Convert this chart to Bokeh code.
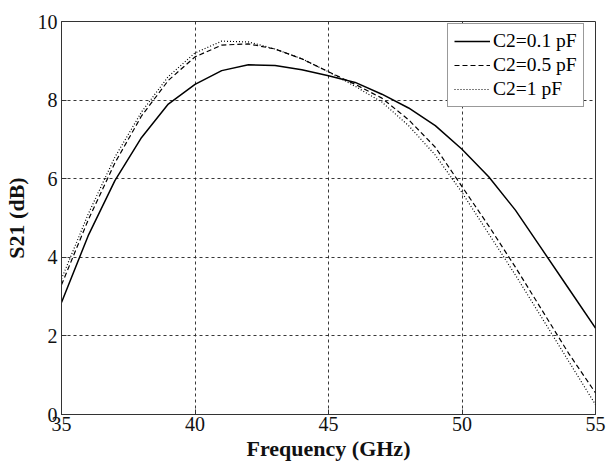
from bokeh.plotting import figure
from bokeh.models import Range1d, FixedTicker, Legend, LegendItem
from bokeh.embed import file_html
from bokeh.resources import INLINE

freq = [35, 36, 37, 38, 39, 40, 41, 42, 43, 44, 45, 46, 47, 48, 49, 50, 51, 52, 53, 54, 55]
s21_c01 = [2.85, 4.55, 5.95, 7.05, 7.9, 8.4, 8.75, 8.9, 8.88, 8.77, 8.62, 8.45, 8.15, 7.8, 7.35, 6.75, 6.05, 5.2, 4.2, 3.2, 2.2]
s21_c05 = [3.3, 4.95, 6.4, 7.6, 8.5, 9.1, 9.4, 9.43, 9.3, 9.05, 8.72, 8.4, 8.05, 7.5, 6.8, 5.8, 4.8, 3.75, 2.65, 1.55, 0.55]
s21_c1 = [3.45, 5.1, 6.55, 7.7, 8.6, 9.2, 9.5, 9.48, 9.3, 9.05, 8.72, 8.35, 7.95, 7.35, 6.6, 5.65, 4.6, 3.55, 2.45, 1.35, 0.25]
labels = ["C2=0.1 pF", "C2=0.5 pF", "C2=1 pF"]
xticks = [35, 40, 45, 50, 55]
yticks = [0, 2, 4, 6, 8, 10]

FONT = "Liberation Serif"

p = figure(width=606, height=464, output_backend="svg", toolbar_location=None,
           x_range=Range1d(35, 55), y_range=Range1d(0, 10),
           min_border_left=58, min_border_right=11, min_border_top=21, min_border_bottom=50)
p.outline_line_color = "#333333"
p.outline_line_width = 1

for ax in (p.xaxis[0], p.yaxis[0]):
    ax.major_label_text_font = FONT
    ax.major_label_text_font_size = "20px"
    ax.major_label_text_color = "#111111"
    ax.axis_label_text_font = FONT
    ax.axis_label_text_font_size = "22px"
    ax.axis_label_text_font_style = "bold"
    ax.axis_label_text_color = "#111111"
    ax.major_tick_in = 5
    ax.major_tick_out = 0
    ax.minor_tick_in = 0
    ax.minor_tick_out = 0
    ax.axis_line_color = "#333333"
    ax.major_tick_line_color = "#333333"

p.xaxis[0].ticker = FixedTicker(ticks=xticks)
p.yaxis[0].ticker = FixedTicker(ticks=yticks)
p.xaxis[0].axis_label = "Frequency (GHz)"
p.yaxis[0].axis_label = "S21 (dB)"
p.xaxis[0].major_label_standoff = 2
p.xaxis[0].axis_label_standoff = 2
p.yaxis[0].major_label_standoff = 4
p.yaxis[0].axis_label_standoff = 6

p.xgrid.ticker = FixedTicker(ticks=xticks)
p.ygrid.ticker = FixedTicker(ticks=yticks)
for g in (p.xgrid[0], p.ygrid[0]):
    g.grid_line_color = "#222222"
    g.grid_line_dash = "3 3"
    g.grid_line_width = 1
    g.grid_line_alpha = 0.9

r1 = p.line(freq, s21_c01, line_color="black", line_width=1.5)
r2 = p.line(freq, s21_c05, line_color="black", line_width=1.2, line_dash="5 3")
r3 = p.line(freq, s21_c1, line_color="black", line_width=1.2, line_dash="1 2")

legend = Legend(items=[LegendItem(label=labels[0], renderers=[r1]),
                       LegendItem(label=labels[1], renderers=[r2]),
                       LegendItem(label=labels[2], renderers=[r3])],
                location=(386, 307))
legend.label_text_font = FONT
legend.label_text_font_size = "19.5px"
legend.label_text_color = "black"
legend.glyph_width = 36
legend.glyph_height = 22
legend.label_height = 22
legend.label_standoff = 3
legend.spacing = 2
legend.padding = 6
legend.margin = 0
legend.border_line_color = "#333333"
legend.border_line_width = 1
legend.background_fill_alpha = 1
p.add_layout(legend, "center")

open("out.html", "w").write(file_html(p, INLINE))
